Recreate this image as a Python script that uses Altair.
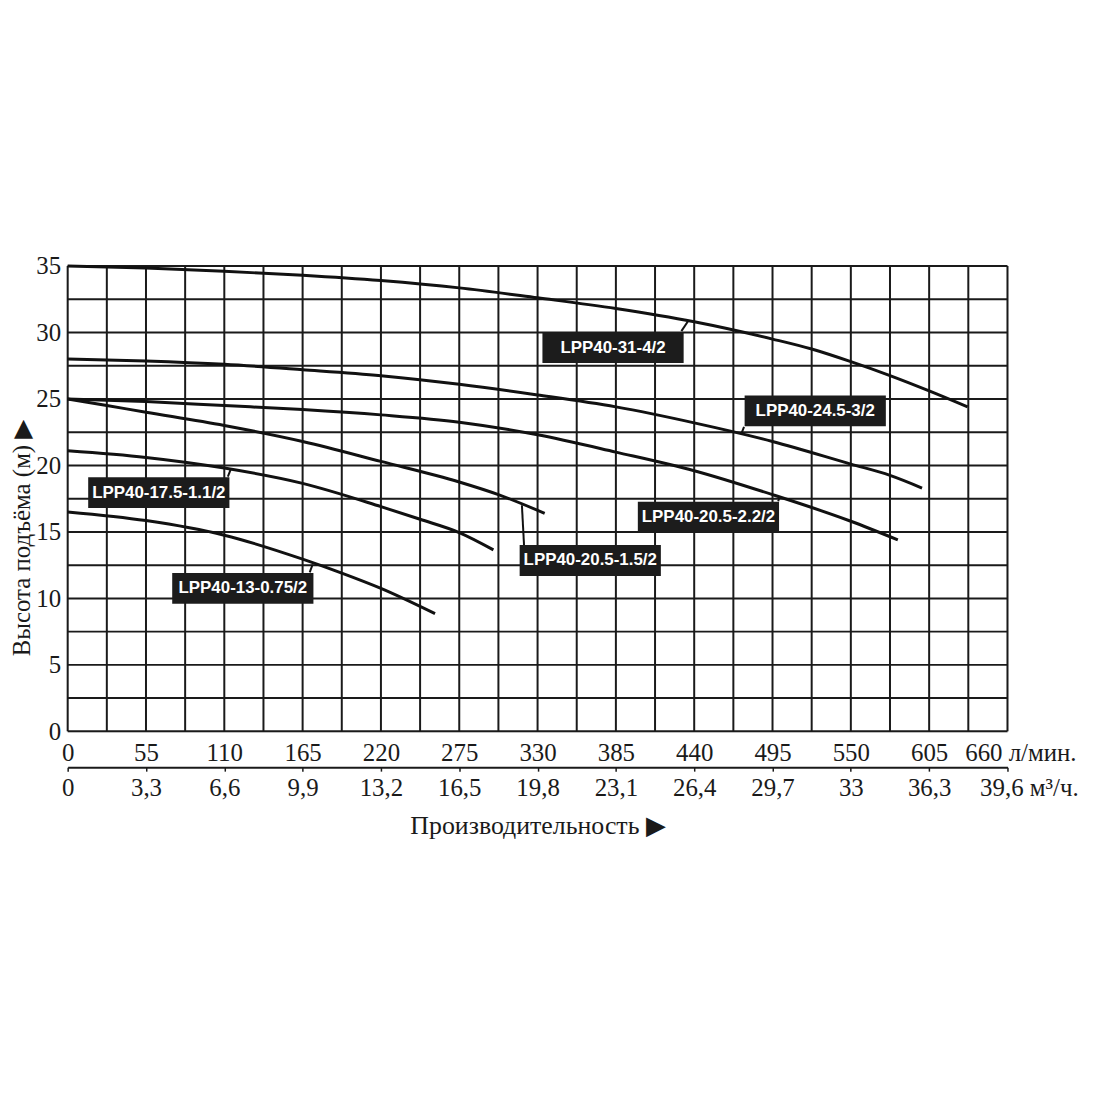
import altair as alt
import pandas as pd

MODELS = [
    "LPP40-31-4/2",
    "LPP40-24.5-3/2",
    "LPP40-20.5-2.2/2",
    "LPP40-20.5-1.5/2",
    "LPP40-17.5-1.1/2",
    "LPP40-13-0.75/2",
]

# flow (l/min) and head (m)
Q_31 = [0, 55, 110, 165, 220, 275, 330, 385, 440, 495, 522.5, 550, 577.5, 605, 632]
H_31 = [35.0, 34.85, 34.6, 34.3, 33.9, 33.35, 32.6, 31.8, 30.8, 29.5, 28.75, 27.8, 26.75, 25.6, 24.4]
Q_245 = [0, 55, 110, 165, 220, 275, 330, 385, 440, 495, 550, 577.5, 600]
H_245 = [28.0, 27.85, 27.6, 27.2, 26.75, 26.1, 25.3, 24.4, 23.2, 21.8, 20.1, 19.25, 18.3]
Q_22 = [0, 55, 110, 165, 220, 275, 330, 385, 440, 495, 550, 583]
H_22 = [25.0, 24.8, 24.5, 24.2, 23.8, 23.25, 22.3, 21.0, 19.6, 17.8, 15.8, 14.4]
Q_15 = [0, 27.5, 55, 110, 165, 220, 275, 302.5, 335]
H_15 = [25.0, 24.5, 24.0, 23.0, 21.8, 20.3, 18.75, 17.8, 16.4]
Q_11 = [0, 55, 110, 165, 220, 247.5, 275, 299]
H_11 = [21.1, 20.6, 19.8, 18.65, 16.9, 15.95, 14.95, 13.65]
Q_075 = [0, 55, 110, 165, 192.5, 220, 258]
H_075 = [16.5, 15.85, 14.75, 12.95, 11.9, 10.75, 8.85]

CURVES = [(Q_31, H_31), (Q_245, H_245), (Q_22, H_22),
          (Q_15, H_15), (Q_11, H_11), (Q_075, H_075)]

# label boxes and their leader lines (box end -> curve end)
LABEL_Q = [383, 525, 450, 367, 64, 123]
LABEL_H = [28.85, 24.1, 16.1, 12.85, 17.95, 10.75]
LEAD_Q = [431, 475, 499, 320.5, 112.5, 170]
LEAD_H = [30.1, 22.9, 17.3, 14.0, 19.15, 11.95]
LEAD_Q2 = [436, 473, 500, 319, 114.5, 172]
LEAD_H2 = [30.9, 22.35, 17.65, 17.0, 19.7, 12.55]

X_GRID = [0, 27.5, 55, 82.5, 110, 137.5, 165, 192.5, 220, 247.5, 275, 302.5,
          330, 357.5, 385, 412.5, 440, 467.5, 495, 522.5, 550, 577.5, 605,
          632.5, 660]
Y_GRID = [0, 2.5, 5, 7.5, 10, 12.5, 15, 17.5, 20, 22.5, 25, 27.5, 30, 32.5, 35]
X_TICKS = [0, 55, 110, 165, 220, 275, 330, 385, 440, 495, 550, 605, 660]
Y_TICKS = [0, 5, 10, 15, 20, 25, 30, 35]
M3_TICKS = [0, 3.3, 6.6, 9.9, 13.2, 16.5, 19.8, 23.1, 26.4, 29.7, 33, 36.3, 39.6]

SERIF = "Liberation Serif, Times New Roman, DejaVu Serif, serif"
SANS = "Liberation Sans, Arial, sans-serif"
INK = "#1a1a1a"

rows = []
for model, (qs, hs) in zip(MODELS, CURVES):
    for q, h in zip(qs, hs):
        rows.append({"model": model, "q": q, "h": h})
curves = pd.DataFrame(rows)

labels = pd.DataFrame({
    "model": MODELS, "q": LABEL_Q, "h": LABEL_H,
    "lq": LEAD_Q, "lh": LEAD_H, "lq2": LEAD_Q2, "lh2": LEAD_H2,
})
xgrid = pd.DataFrame({"gx": X_GRID})
ygrid = pd.DataFrame({"gy": Y_GRID})
m3 = pd.DataFrame({"m3": M3_TICKS})

x_scale = alt.Scale(domain=[0, 660], nice=False, zero=False)
y_scale = alt.Scale(domain=[0, 35], nice=False)

x_axis = alt.Axis(
    values=X_TICKS, title=None, domain=False, ticks=False, grid=False,
    labelExpr="datum.value == 660 ? '660 л/мин.' : datum.label",
    labelAlign={"condition": {"test": "datum.value == 660", "value": "left"}, "value": "center"},
    labelOffset={"condition": {"test": "datum.value == 660", "value": -43}, "value": 0},
    labelFont=SERIF, labelFontSize=25, labelColor=INK, labelPadding=9,
    labelOverlap=False, labelFlush=False,
)
y_axis = alt.Axis(
    values=Y_TICKS, domain=False, ticks=False, grid=False,
    labelFont=SERIF, labelFontSize=25, labelColor=INK, labelPadding=7,
    labelOverlap=False, labelFlush=False,
    title="Высота подъёма (м) ▶", titleFont=SERIF, titleFontSize=25,
    titleFontWeight="normal", titleColor=INK,
    titleX=-38, titleY=273, titleAlign="center", titleBaseline="alphabetic",
    titleAngle=270,
)

vgrid = (
    alt.Chart(xgrid)
    .mark_rule(color=INK, strokeWidth=2)
    .encode(x=alt.X("gx:Q", scale=x_scale, axis=x_axis))
)
hgrid = (
    alt.Chart(ygrid)
    .mark_rule(color=INK, strokeWidth=2)
    .encode(y=alt.Y("gy:Q", scale=y_scale, axis=y_axis))
)

lines = (
    alt.Chart(curves)
    .mark_line(color="#111", strokeWidth=3, interpolate="monotone")
    .encode(x="q:Q", y="h:Q", detail="model:N")
)

leads = (
    alt.Chart(labels)
    .mark_rule(color="#111", strokeWidth=2)
    .encode(x="lq:Q", y="lh:Q", x2="lq2:Q", y2="lh2:Q")
)

boxes = (
    alt.Chart(labels)
    .mark_point(shape="M-1,-0.218H1V0.218H-1Z", size=142 ** 2, filled=True,
                color="#1c1c1c", opacity=1)
    .encode(x="q:Q", y="h:Q")
)

texts = (
    alt.Chart(labels)
    .mark_text(color="white", font=SANS, fontSize=17, fontWeight="bold")
    .encode(x="q:Q", y="h:Q", text="model:N")
)

m3_axis = (
    alt.Chart(m3)
    .mark_point(opacity=0)
    .encode(
        x=alt.X(
            "m3:Q",
            scale=alt.Scale(domain=[0, 39.6], nice=False, zero=False),
            axis=alt.Axis(
                orient="bottom", offset=36, values=M3_TICKS,
                labelExpr="datum.value == 39.6 ? '39,6 м³/ч.' : "
                          "replace(replace(format(datum.value, '.1f'), '.0', ''), '.', ',')",
                labelAlign={"condition": {"test": "datum.value == 39.6", "value": "left"}, "value": "center"},
                labelOffset={"condition": {"test": "datum.value == 39.6", "value": -28}, "value": 0},
                domainColor=INK, domainWidth=2, tickColor=INK,
                tickWidth=1.5, tickSize=4, labelFont=SERIF, labelFontSize=25,
                labelColor=INK, labelPadding=4, labelOverlap=False,
                labelFlush=False, grid=False,
                title="Производительность ▶", titleFont=SERIF, titleFontSize=26,
                titleFontWeight="normal", titleColor=INK, titlePadding=13,
            ),
        ),
    )
)

main = alt.layer(vgrid, hgrid, lines, leads, boxes, texts)

chart = (
    alt.layer(main, m3_axis)
    .resolve_scale(x="independent")
    .properties(
        width=945, height=468, autosize="none",
        padding={"left": 60, "top": 257, "right": 85, "bottom": 130},
    )
    .configure_view(stroke=None)
    .configure(background="white")
)

chart.save("out.html", embed_options={"renderer": "svg", "actions": False})
